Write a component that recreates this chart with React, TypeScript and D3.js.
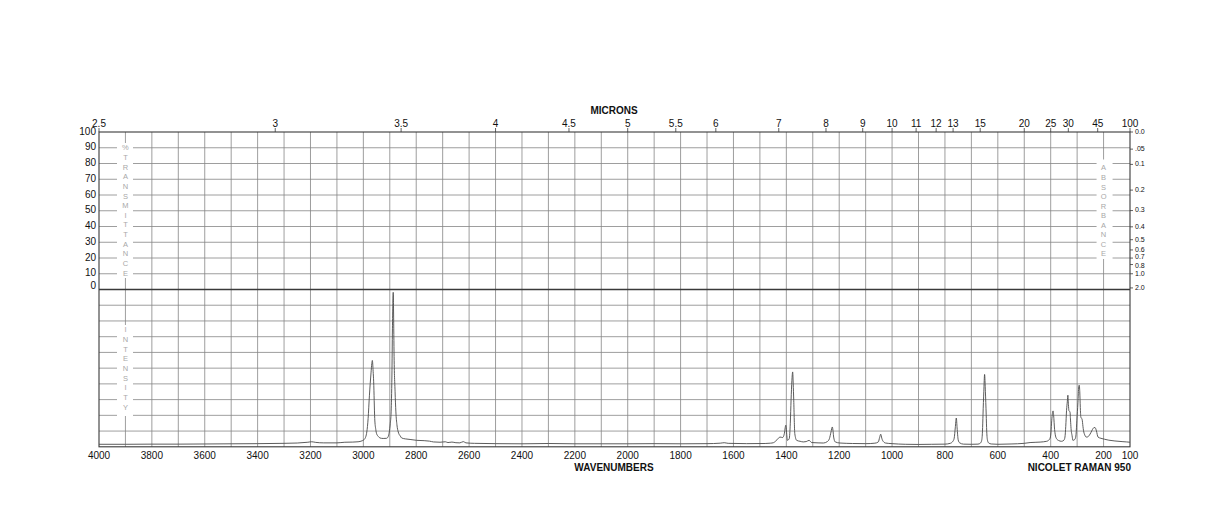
import { useEffect } from 'react';
import * as d3 from 'd3';

// wavenumber (cm-1), raman intensity (0-100 of lower panel)
const SPECTRUM: [number, number][] = [
  [4000, 1.6], [3900, 1.6], [3800, 1.7], [3700, 1.7], [3600, 1.8], [3500, 1.9], [3400, 2.0],
  [3300, 2.2], [3250, 2.4], [3210, 2.9], [3195, 3.2], [3180, 2.8], [3150, 2.5], [3100, 2.5],
  [3070, 2.9], [3040, 3.0], [3020, 3.2], [3005, 3.8], [2995, 5.0], [2987, 9.4], [2982, 18],
  [2977, 32.8], [2971, 47], [2968, 53], [2966, 54.9], [2963, 48], [2961, 41.3], [2957, 18],
  [2953, 11], [2950, 8.4], [2943, 6.5], [2937, 5.6], [2925, 5.3], [2912, 5.4], [2906, 6.5],
  [2902, 9.4], [2898, 15], [2895, 22.2], [2892, 45], [2890, 75], [2887, 98.2], [2885, 75],
  [2884, 60.4], [2880, 35], [2877, 22.2], [2873, 14], [2868, 9.4], [2860, 6.8], [2855, 5.6],
  [2840, 5.0], [2820, 4.6], [2798, 4.1], [2770, 3.9], [2750, 3.6], [2735, 3.1], [2710, 2.9],
  [2690, 3.2], [2680, 2.7], [2665, 3.0], [2650, 2.6], [2635, 2.5], [2622, 3.3], [2612, 2.5],
  [2580, 2.2], [2500, 2.0], [2400, 1.9], [2300, 2.1], [2200, 1.9], [2100, 1.9], [2000, 1.9],
  [1900, 2.0], [1800, 1.9], [1700, 2.0], [1650, 2.3], [1635, 2.6], [1620, 2.2], [1550, 2.0],
  [1480, 2.1], [1460, 2.3], [1449, 2.6], [1435, 4.5], [1424, 6.2], [1414, 5.9], [1408, 8],
  [1402, 13.7], [1398, 7], [1396, 4.1], [1389, 5.2], [1385, 15], [1382, 30], [1379, 42],
  [1376, 47.6], [1374, 40], [1372, 29.6], [1368, 8.4], [1361, 4.1], [1348, 3.5], [1336, 3.1],
  [1325, 3.3], [1314, 4.1], [1304, 2.7], [1280, 2.5], [1260, 2.4], [1245, 3.3], [1237, 5.2],
  [1231, 9.4], [1226, 12.6], [1223, 9.5], [1221, 6.2], [1215, 3.1], [1197, 2.4], [1150, 2.1],
  [1100, 2.0], [1065, 2.3], [1052, 3.1], [1047, 6], [1043, 8], [1039, 5.5], [1036, 4.1],
  [1025, 2.4], [1000, 2.0], [950, 1.6], [900, 1.5], [850, 1.6], [800, 1.7], [780, 2.2],
  [770, 3.5], [765, 5.5], [761, 12], [757, 18.3], [754, 12], [750, 4.5], [745, 2.6], [730, 1.7],
  [700, 1.6], [675, 1.7], [665, 2.5], [661, 4.1], [658, 10], [656, 20.7], [653, 35], [650, 46],
  [647, 35], [644, 20.7], [642, 10], [639, 4.1], [635, 2.5], [625, 1.8], [600, 1.6], [550, 1.8],
  [500, 2.2], [478, 2.7], [440, 3.0], [415, 3.5], [403, 5.2], [399, 9], [396, 16.9], [391, 22.8],
  [388, 18], [386, 12.6], [383, 8], [378, 5.2], [370, 4.0], [359, 3.5], [350, 4.2], [346, 6.2],
  [343, 13], [340, 23.2], [337, 29], [335, 32.8], [333, 27], [331, 23], [327, 22.2], [325, 17],
  [323, 11.6], [319, 7], [316, 4.1], [311, 4.4], [307, 5.2], [304, 8], [301, 16.9], [297, 28],
  [294, 38], [292, 39.2], [290, 35], [288, 25], [286, 19], [281, 17.3], [278, 13], [276, 10.5],
  [271, 7.5], [266, 6.2], [260, 6.3], [254, 7.3], [248, 9], [242, 11], [236, 12.2], [232, 12.2],
  [227, 10.1], [221, 6.2], [210, 5.4], [196, 4.8], [180, 4.2], [157, 3.7], [130, 3.3],
  [113, 3.1], [100, 2.9],
];

const WAVENUMBER_TICKS = [4000, 3800, 3600, 3400, 3200, 3000, 2800, 2600, 2400, 2200, 2000,
  1800, 1600, 1400, 1200, 1000, 800, 600, 400, 200, 100];
const MICRON_TICKS = ['2.5', '3', '3.5', '4', '4.5', '5', '5.5', '6', '7', '8', '9', '10', '11',
  '12', '13', '15', '20', '25', '30', '45', '100'];
const TRANSMITTANCE_TICKS = [100, 90, 80, 70, 60, 50, 40, 30, 20, 10, 0];
const ABSORBANCE_TICKS = ['0.0', '.05', '0.1', '0.2', '0.3', '0.4', '0.5', '0.6', '0.7', '0.8', '1.0', '2.0'];

const W = 1224;
const H = 528;
const FONT = "'Liberation Sans', Arial, Helvetica, sans-serif";

export default function App() {
  useEffect(() => {
    document.body.style.margin = '0';
  }, []);

  const x = d3.scaleLinear().domain([4000, 100]).range([99, 1130]);
  const yT = d3.scaleLinear().domain([0, 100]).range([289.5, 132]);
  const yI = d3.scaleLinear().domain([0, 100]).range([446.8, 289.5]);

  const left = x(4000);
  const right = x(100);
  const top = yT(100);
  const mid = yT(0);
  const bottom = yI(0);

  const gridWn = d3.range(3900, 100, -100);
  const gridUpper = d3.range(10, 100, 10);
  const gridLower = d3.range(10, 100, 10);

  const line = d3.line<[number, number]>()
    .x((d) => x(d[0]))
    .y((d) => yI(d[1]))
    .curve(d3.curveMonotoneX);

  const letterCol = (word: string, cx: number, y0: number, step: number) =>
    word.split('').map((c, i) => (
      <text key={i} x={cx} y={y0 + i * step} textAnchor="middle" dominantBaseline="middle"
        fontSize={7.5} fill="#a8a8a8" fontFamily={FONT}>{c}</text>
    ));

  // 0.7 and 0.8 crowd each other, nudge apart a little
  const absNudge: Record<string, number> = { '0.7': -1.2, '0.8': 1.2 };

  return (
    <svg width={W} height={H} style={{ display: 'block', background: '#fff' }}>
      {/* grid */}
      <g stroke="#858585" strokeWidth={0.8}>
        {gridWn.map((w) => (
          <line key={w} x1={x(w)} x2={x(w)} y1={top} y2={bottom} />
        ))}
        {gridUpper.map((v) => (
          <line key={'u' + v} x1={left} x2={right} y1={yT(v)} y2={yT(v)} />
        ))}
        {gridLower.map((v) => (
          <line key={'l' + v} x1={left} x2={right} y1={yI(v)} y2={yI(v)} />
        ))}
      </g>

      {/* side label columns */}
      <rect x={117} y={143} width={16} height={135} fill="#fff" />
      <rect x={117} y={325} width={16} height={91} fill="#fff" />
      <rect x={x(200) - 7} y={159.5} width={16} height={99.5} fill="#fff" />
      {letterCol('%TRANSMITTANCE', x(3900), 148.5, 9.62)}
      {letterCol('INTENSITY', x(3900), 330.5, 9.65)}
      {letterCol('ABSORBANCE', x(200), 168.5, 9.55)}

      {/* frame */}
      <rect x={left} y={top} width={right - left} height={bottom - top} fill="none" stroke="#3a3a3a" strokeWidth={1.1} />
      <line x1={left} x2={right} y1={mid} y2={mid} stroke="#3a3a3a" strokeWidth={1.6} />

      {/* spectrum */}
      <path d={line(SPECTRUM) ?? ''} fill="none" stroke="#4a4a4a" strokeWidth={0.9} />

      {/* top microns axis */}
      {MICRON_TICKS.map((m) => {
        const px = x(10000 / +m);
        return (
          <g key={m}>
            <line x1={px} x2={px} y1={top - 4} y2={top} stroke="#3a3a3a" strokeWidth={0.8} />
            <text x={px} y={127} textAnchor="middle" fontSize={10} fontFamily={FONT} fill="#111">{m}</text>
          </g>
        );
      })}
      <text x={614} y={114} textAnchor="middle" fontSize={10} fontWeight="bold" fontFamily={FONT} fill="#111">MICRONS</text>

      {/* left transmittance axis */}
      {TRANSMITTANCE_TICKS.map((t) => (
        <text key={t} x={96} y={t === 0 ? yT(t) - 3.5 : yT(t)} textAnchor="end" dominantBaseline="middle"
          fontSize={10} fontFamily={FONT} fill="#111">{t}</text>
      ))}

      {/* right absorbance axis */}
      {ABSORBANCE_TICKS.map((a) => {
        const py = yT(100 * Math.pow(10, -parseFloat(a)));
        return (
          <g key={a}>
            <line x1={right} x2={right + 3} y1={py} y2={py} stroke="#3a3a3a" strokeWidth={0.8} />
            <text x={right + 5} y={py + (absNudge[a] ?? 0)} dominantBaseline="middle" fontSize={7}
              fontFamily={FONT} fill="#111">{a}</text>
          </g>
        );
      })}

      {/* bottom wavenumber axis */}
      {WAVENUMBER_TICKS.map((w) => (
        <text key={w} x={x(w)} y={459} textAnchor="middle" fontSize={10} fontFamily={FONT} fill="#111">{w}</text>
      ))}
      <text x={614} y={471} textAnchor="middle" fontSize={10} fontWeight="bold" fontFamily={FONT} fill="#111">WAVENUMBERS</text>
      <text x={1131} y={471} textAnchor="end" fontSize={10} fontWeight="bold" fontFamily={FONT} fill="#111">NICOLET RAMAN 950</text>
    </svg>
  );
}
